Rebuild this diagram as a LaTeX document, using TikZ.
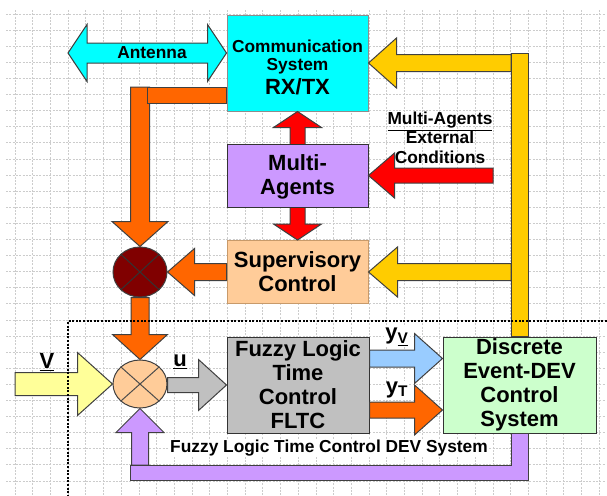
\documentclass[tikz,border=0pt]{standalone}
\usepackage{fontspec}
\setmainfont{Liberation Sans}
\usetikzlibrary{calc,positioning,shapes.geometric}

\definecolor{commcyan}{HTML}{00FFFF}
\definecolor{agentlilac}{HTML}{CC99FF}
\definecolor{peach}{HTML}{FFCC99}
\definecolor{fltcgray}{HTML}{C0C0C0}
\definecolor{devgreen}{HTML}{CCFFCC}
\definecolor{junctionred}{HTML}{800000}
\definecolor{flowred}{HTML}{FF0000}
\definecolor{floworange}{HTML}{FF6600}
\definecolor{flowgold}{HTML}{FFCC00}
\definecolor{flowyellow}{HTML}{FFFF99}
\definecolor{flowblue}{HTML}{99CCFF}
\definecolor{supborder}{HTML}{C89A6A}

% block arrows: style, tail, tip, shaft half width, head half width, head length
\newcommand\harrow[6]{%
  \draw[#1] let \p1=(#2), \p2=(#3),
    \n1={ifthenelse(\x1>\x2,1,-1)*#6*0.75pt}, \n2={#4*0.75pt}, \n3={#5*0.75pt} in
    (\p2) -- (\x2+\n1,\y2+\n3) -- (\x2+\n1,\y2+\n2) -- (\x1,\y2+\n2)
    -- (\x1,\y2-\n2) -- (\x2+\n1,\y2-\n2) -- (\x2+\n1,\y2-\n3) -- cycle;}
\newcommand\varrow[6]{%
  \draw[#1] let \p1=(#2), \p2=(#3),
    \n1={ifthenelse(\y1>\y2,1,-1)*#6*0.75pt}, \n2={#4*0.75pt}, \n3={#5*0.75pt} in
    (\p2) -- (\x2+\n3,\y2+\n1) -- (\x2+\n2,\y2+\n1) -- (\x2+\n2,\y1)
    -- (\x2-\n2,\y1) -- (\x2-\n2,\y2+\n1) -- (\x2-\n3,\y2+\n1) -- cycle;}
% two-headed versions
\newcommand\dharrow[6]{%
  \draw[#1] let \p1=(#2), \p2=(#3),
    \n1={ifthenelse(\x1>\x2,1,-1)*#6*0.75pt}, \n2={#4*0.75pt}, \n3={#5*0.75pt} in
    (\p2) -- (\x2+\n1,\y2+\n3) -- (\x2+\n1,\y2+\n2) -- (\x1-\n1,\y2+\n2)
    -- (\x1-\n1,\y2+\n3) -- (\x1,\y2) -- (\x1-\n1,\y2-\n3) -- (\x1-\n1,\y2-\n2)
    -- (\x2+\n1,\y2-\n2) -- (\x2+\n1,\y2-\n3) -- cycle;}
\newcommand\dvarrow[6]{%
  \draw[#1] let \p1=(#2), \p2=(#3),
    \n1={ifthenelse(\y1>\y2,1,-1)*#6*0.75pt}, \n2={#4*0.75pt}, \n3={#5*0.75pt} in
    (\p2) -- (\x2+\n3,\y2+\n1) -- (\x2+\n2,\y2+\n1) -- (\x2+\n2,\y1-\n1)
    -- (\x2+\n3,\y1-\n1) -- (\x1,\y1) -- (\x2-\n3,\y1-\n1) -- (\x2-\n2,\y1-\n1)
    -- (\x2-\n2,\y2+\n1) -- (\x2-\n3,\y2+\n1) -- cycle;}

\begin{document}
\begin{tikzpicture}[
x=0.75pt, y=-0.75pt,
box/.style={
draw=black!80,
line width=0.75pt,
align=center,
inner sep=0pt,
font=\bfseries\fontsize{16.5}{18}\selectfont
},
junction/.style={
ellipse,
draw=black!75,
line width=0.75pt,
minimum width=40.5pt,
inner sep=0pt
},
barrow/.style={draw=black!75, line width=0.75pt},
lbl/.style={font=\bfseries\fontsize{13}{14.6}\selectfont, inner sep=1pt},
biglbl/.style={font=\bfseries\fontsize{16.5}{18}\selectfont, inner sep=1pt},
gridline/.style={draw=black!20, line width=0.6pt, dash pattern=on 1.5pt off 1pt}
]

\useasboundingbox (0,0) rectangle (607,496);

% background grid
\foreach \gx in {0,...,33}
  \draw[gridline] (15+17.7*\gx,10) -- (15+17.7*\gx,496);
\foreach \gy in {0,...,29}
  \draw[gridline] (6,14+16.1*\gy) -- (605,14+16.1*\gy);

% strut in the first line pushes the three lines a little lower
\node[box, fill=commcyan, draw=black!45, minimum width=105.75pt, minimum height=72pt,
  font=\bfseries\fontsize{13}{13.5}\selectfont] (comm) at (297.5,63)
{\rule{0pt}{16pt}Communication\\System\\[2.5pt]\fontsize{16.5}{18}\selectfont RX/TX};

\node[box, fill=peach, draw=supborder, minimum width=105.75pt, minimum height=47.25pt] (sup) at (297.5,272)
{Supervisory\\Control};

\node[box, fill=fltcgray, minimum width=106.5pt, minimum height=72pt] (fltc) at (298,385)
{Fuzzy Logic\\Time\\Control\\FLTC};

\node[box, fill=devgreen, minimum width=114.75pt, minimum height=72pt] (dev) at (519.5,385)
{Discrete\\Event-DEV\\Control\\System};

\node[junction, fill=junctionred, minimum height=37.5pt] (dark) at (140,272) {};
\draw[black!80, line width=0.75pt] (dark.north west) -- (dark.south east)
  (dark.north east) -- (dark.south west);

\node[junction, fill=peach, minimum height=36pt] (sum) at (140,384) {};
\draw[black!70, line width=0.75pt] (sum.north west) -- (sum.south east)
  (sum.north east) -- (sum.south west);

% RX/TX <-> agents <-> supervisor, behind the agents box
\dvarrow{barrow, fill=flowred}{comm.south}{sup.north}{7.5}{24}{16}

\node[box, fill=agentlilac, minimum width=105.75pt, minimum height=47.25pt] (multi) at (297.5,175.5)
{\rule{0pt}{14pt}Multi-\\Agents};

% antenna
\coordinate (ant) at (68,53);
\dharrow{barrow, fill=commcyan}{ant}{comm.west |- ant}{10}{28.5}{19}
\node[lbl] (antlbl) at (152,53) {Antenna};

% external conditions
\coordinate (ext) at (493,175.5);
\harrow{barrow, fill=flowred}{ext}{multi.east}{7.5}{22.5}{26}
\node[lbl, align=center] (extlbl) at (440,137.5)
{\underline{Multi-Agents}\\External\\Conditions};

% RX/TX down to the supervisory junction
\coordinate (otail) at (140,87);
\varrow{barrow, fill=floworange}{otail}{dark.north}{9.5}{28}{25}
\draw[barrow, fill=floworange] ($(comm.west)+(-79,24)$) rectangle ($(comm.west)+(0,40)$);

\harrow{barrow, fill=floworange}{sup.west}{dark.east}{8.5}{23.5}{27}
\varrow{barrow, fill=floworange}{dark.south}{sum.north}{9}{27.5}{25}

% DEV state back to RX/TX and supervisor
\coordinate (fbtop) at (511,53);
\harrow{barrow, fill=flowgold}{fbtop |- comm.east}{comm.east}{8.5}{25}{28}
\harrow{barrow, fill=flowgold}{fbtop |- sup.east}{sup.east}{8.5}{25}{29}
\draw[barrow, fill=flowgold] (fbtop) rectangle ($(dev.north)+(8.5,0)$);

% loop inputs
\coordinate (vin) at (15,385);
\harrow{barrow, fill=flowyellow}{vin}{sum.west}{11.5}{31.5}{35}
\node[biglbl] (vlbl) at (47,362) {\underline{V}};

\harrow{barrow, fill=fltcgray}{sum.east}{fltc.west}{7.5}{25.5}{28}
\node[biglbl] (ulbl) at (180,362) {\underline{u}};

\harrow{barrow, fill=flowblue}{$(fltc.east)+(0,-26.5)$}{$(dev.west)+(0,-26.5)$}{8.5}{25}{28}
\harrow{barrow, fill=floworange}{$(fltc.east)+(0,25)$}{$(dev.west)+(0,25)$}{8}{25}{28}
\node[biglbl, fill=white] (yvlbl) at (397,337) {y\textsubscript{\underline{V}}};
\node[biglbl, fill=white] (ytlbl) at (397,390) {y\textsubscript{T}};

% feedback from the DEV system
\coordinate (ftail) at (140,465);
\varrow{barrow, fill=agentlilac}{ftail}{sum.south}{8.5}{24}{24}
\draw[barrow, fill=agentlilac] ($(ftail)+(-10,0)$) -| ($(dev.south)+(-8.5,0)$)
  -- ($(dev.south)+(8.5,0)$) |- ($(ftail)+(-10,15)$) -- cycle;
\node[lbl, fill=white] (looplbl) at (329,448) {Fuzzy Logic Time Control DEV System};

% boundary of the DEV loop
\draw[black, line width=0.9pt, dash pattern=on 1.5pt off 1.2pt] (607,321) -- (68,321) -- (68,496);

\end{tikzpicture}
\end{document}
